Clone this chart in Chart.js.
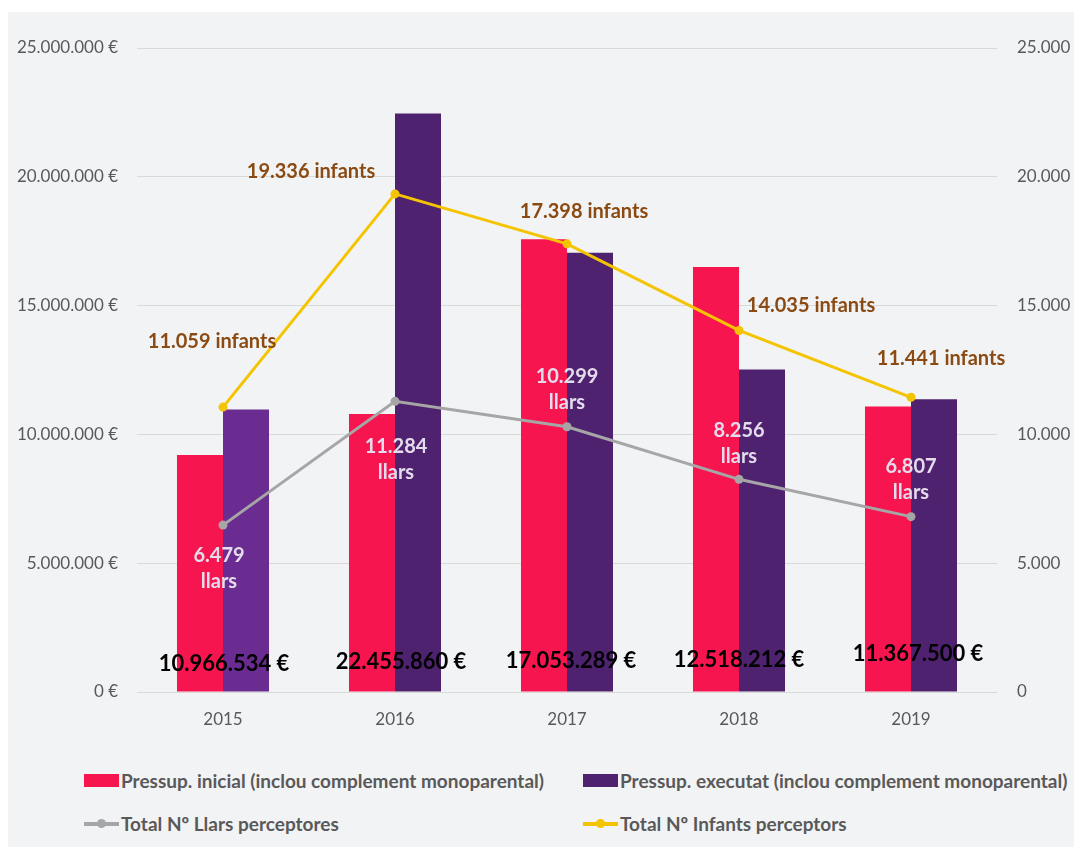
<!DOCTYPE html>
<html><head><meta charset="utf-8">
<script src="https://cdn.jsdelivr.net/npm/chart.js@4"></script>
<style>
html,body{margin:0;padding:0;background:#fff;width:1075px;height:847px;overflow:hidden;}
#wrap{position:absolute;left:8px;top:12px;width:1066px;height:835px;background:#f2f3f5;}
#cbox{position:absolute;left:0;top:0;width:1066px;height:740px;}
#legend{position:absolute;left:76px;top:755px;display:grid;grid-template-columns:499px auto;row-gap:17px;font-family:Lato,'Open Sans',sans-serif;font-weight:700;font-size:19px;color:#595959;}
.item{display:flex;align-items:center;height:26px;white-space:nowrap;}
.mk{position:relative;width:35px;height:13px;margin-right:2px;flex:none;}
.mk .ln{position:absolute;left:0;right:0;top:5px;height:4px;}
.mk .dt{position:absolute;left:13px;top:2px;width:9px;height:9px;border-radius:50%;}
</style></head>
<body>
<div id="wrap">
  <div id="cbox"><canvas id="c"></canvas></div>
  <div id="legend"></div>
</div>
<script>
const years = ['2015','2016','2017','2018','2019'];
const pressupInicial = [9200000, 10790000, 17580000, 16500000, 11080000];
const pressupExecutat = [10966534, 22455860, 17053289, 12518212, 11367500];
const llarsPerceptores = [6479, 11284, 10299, 8256, 6807];
const infantsPerceptors = [11059, 19336, 17398, 14035, 11441];
const leftTickLabels = ['0 €','5.000.000 €','10.000.000 €','15.000.000 €','20.000.000 €','25.000.000 €'];
const rightTickLabels = ['0','5.000','10.000','15.000','20.000','25.000'];
const euroLabels = ['10.966.534 €','22.455.860 €','17.053.289 €','12.518.212 €','11.367.500 €'];
const infantsLabels = ['11.059 infants','19.336 infants','17.398 infants','14.035 infants','11.441 infants'];
const llarsLabels = ['6.479','11.284','10.299','8.256','6.807'];

const FONT = 'Lato, "Open Sans", sans-serif';
const PINK = '#f7154f', PURPLE = '#4f2270', PURPLE15 = '#6b2c91', GREY = '#a6a6a6', GOLD = '#f5c400';

// label placement offsets (px) relative to points
const infantsOff = [[-11,-66],[-84,-22],[17,-32],[72,-25],[30,-39]];
const llarsOff = [[-4,30],[1,45],[0,-50],[0,-49],[0,-50]];
const euroOff = [[1,-28],[6,-30],[4,-31],[0,-32],[7,-38]];

const labelPlugin = {
  id: 'customLabels',
  afterDatasetsDraw(chart) {
    const ctx = chart.ctx;
    const ca = chart.chartArea;
    const mL = chart.getDatasetMeta(2), mI = chart.getDatasetMeta(3);
    ctx.save();
    ctx.textAlign = 'center';
    ctx.textBaseline = 'middle';
    ctx.font = 'bold 22px ' + FONT;
    ctx.fillStyle = '#000';
    mL.data.forEach((p, i) => {
      ctx.fillText(euroLabels[i], p.x + euroOff[i][0], ca.bottom + euroOff[i][1]);
    });
    ctx.font = 'bold 20px ' + FONT;
    ctx.fillStyle = '#8a4a12';
    mI.data.forEach((p, i) => {
      ctx.fillText(infantsLabels[i], p.x + infantsOff[i][0], p.y + infantsOff[i][1]);
    });
    ctx.font = 'bold 20px ' + FONT;
    ctx.fillStyle = '#e4dcec';
    mL.data.forEach((p, i) => {
      const x = p.x + llarsOff[i][0], y = p.y + llarsOff[i][1];
      ctx.fillText(llarsLabels[i], x, y);
      ctx.fillText('llars', x, y + 26);
    });
    ctx.restore();
  }
};

const chart = new Chart(document.getElementById('c'), {
  data: {
    labels: years,
    datasets: [
      { type:'bar', label:'Pressup. inicial (inclou complement monoparental)', data: pressupInicial,
        backgroundColor: PINK, yAxisID:'y', order: 2 },
      { type:'bar', label:'Pressup. executat (inclou complement monoparental)', data: pressupExecutat,
        backgroundColor: [PURPLE15, PURPLE, PURPLE, PURPLE, PURPLE], yAxisID:'y', order: 2 },
      { type:'line', label:'Total Nº Llars perceptores', data: llarsPerceptores,
        borderColor: GREY, backgroundColor: GREY, borderWidth: 3, pointRadius: 4.5, pointBackgroundColor: GREY,
        pointBorderWidth: 0, yAxisID:'y1', order: 1 },
      { type:'line', label:'Total Nº Infants perceptors', data: infantsPerceptors,
        borderColor: GOLD, backgroundColor: GOLD, borderWidth: 3, pointRadius: 4.5, pointBackgroundColor: GOLD,
        pointBorderWidth: 0, yAxisID:'y1', order: 0 }
    ]
  },
  options: {
    responsive: true,
    maintainAspectRatio: false,
    animation: false,
    datasets: { bar: { categoryPercentage: 0.535, barPercentage: 1.0 } },
    layout: { padding: { top: 36, left: 0, right: 0, bottom: 0 } },
    plugins: { legend: { display: false }, tooltip: { enabled: false } },
    scales: {
      x: {
        grid: { display: false }, border: { display: false },
        ticks: { color: '#595959', font: { family: FONT, size: 17 }, padding: 9 },
        afterFit(s) { s.height = 60; }
      },
      y: {
        position: 'left', min: 0, max: 25000000,
        grid: { color: '#d9d9d9', drawTicks: false }, border: { display: false },
        ticks: { stepSize: 5000000, color: '#595959', font: { family: FONT, size: 17 }, padding: 19,
          callback: (v, i) => leftTickLabels[i] },
        afterFit(s) { s.width = 129; }
      },
      y1: {
        position: 'right', min: 0, max: 25000,
        grid: { display: false, drawTicks: false }, border: { display: false },
        ticks: { stepSize: 5000, color: '#595959', font: { family: FONT, size: 17 }, padding: 20,
          callback: (v, i) => rightTickLabels[i] },
        afterFit(s) { s.width = 77; }
      }
    }
  },
  plugins: [labelPlugin]
});

const legendEl = document.getElementById('legend');
chart.data.datasets.forEach((ds, i) => {
  const item = document.createElement('div');
  item.className = 'item';
  const mk = document.createElement('span');
  mk.className = 'mk';
  if (ds.type === 'bar') {
    mk.style.background = i === 1 ? PURPLE : ds.backgroundColor;
  } else {
    const ln = document.createElement('span'); ln.className = 'ln'; ln.style.background = ds.borderColor;
    const dt = document.createElement('span'); dt.className = 'dt'; dt.style.background = ds.borderColor;
    mk.appendChild(ln); mk.appendChild(dt);
  }
  const tx = document.createElement('span');
  tx.textContent = ds.label;
  item.appendChild(mk); item.appendChild(tx);
  legendEl.appendChild(item);
});
</script>
</body></html>
